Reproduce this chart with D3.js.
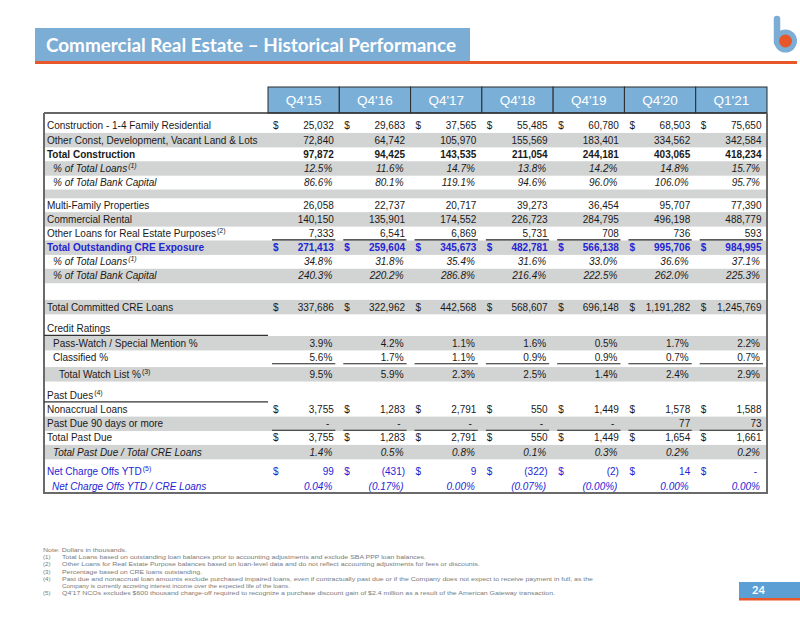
<!DOCTYPE html>
<html><head><meta charset="utf-8">
<script src="https://cdn.jsdelivr.net/npm/d3@7/dist/d3.min.js"></script>
<style>body{margin:0;background:#fff}svg{display:block}</style>
</head><body><svg id="c" width="800" height="618"></svg>
<script>
// ---------- data ----------
const title = "Commercial Real Estate \u2013 Historical Performance";
const categories = ["Q4'15","Q4'16","Q4'17","Q4'18","Q4'19","Q4'20","Q1'21"];
const constr14 = [25032, 29683, 37565, 55485, 60780, 68503, 75650];
const otherConst = [72840, 64742, 105970, 155569, 183401, 334562, 342584];
const totalConstruction = [97872, 94425, 143535, 211054, 244181, 403065, 418234];
const constrPctLoans = [12.5, 11.6, 14.7, 13.8, 14.2, 14.8, 15.7];
const constrPctCapital = [86.6, 80.1, 119.1, 94.6, 96.0, 106.0, 95.7];
const multiFamily = [26058, 22737, 20717, 39273, 36454, 95707, 77390];
const commercialRental = [140150, 135901, 174552, 226723, 284795, 496198, 488779];
const otherRE = [7333, 6541, 6869, 5731, 708, 736, 593];
const totalCRE = [271413, 259604, 345673, 482781, 566138, 995706, 984995];
const crePctLoans = [34.8, 31.8, 35.4, 31.6, 33.0, 36.6, 37.1];
const crePctCapital = [240.3, 220.2, 286.8, 216.4, 222.5, 262.0, 225.3];
const committed = [337686, 322962, 442568, 568607, 696148, 1191282, 1245769];
const passWatch = [3.9, 4.2, 1.1, 1.6, 0.5, 1.7, 2.2];
const classified = [5.6, 1.7, 1.1, 0.9, 0.9, 0.7, 0.7];
const totalWatch = [9.5, 5.9, 2.3, 2.5, 1.4, 2.4, 2.9];
const nonaccrual = [3755, 1283, 2791, 550, 1449, 1578, 1588];
const pastDue90 = [0, 0, 0, 0, 0, 77, 73];
const totalPastDue = [3755, 1283, 2791, 550, 1449, 1654, 1661];
const pastDuePct = [1.4, 0.5, 0.8, 0.1, 0.3, 0.2, 0.2];
const nco = [99, -431, 9, -322, -2, 14, 0];
const ncoPct = [0.04, -0.17, 0.00, -0.07, -0.0004, 0.00, 0.00];
const footnoteMarks = ["", "(1)", "(2)", "(3)", "(4)", "", "(5)"];
const footnoteTexts = [
  "Note: Dollars in thousands.",
  "Total Loans based on outstanding loan balances prior to accounting adjustments and exclude SBA PPP loan balances.",
  "Other Loans for Real Estate Purpose balances based on loan-level data and do not reflect accounting adjustments for fees or discounts.",
  "Percentage based on CRE loans outstanding.",
  "Past due and nonaccrual loan amounts exclude purchased impaired loans, even if contractually past due or if the Company does not expect to receive payment in full, as the",
  "Company is currently accreting interest income over the expected life of the loans.",
  "Q4'17 NCOs excludes $600 thousand charge-off required to recognize a purchase discount gain of $2.4 million as a result of the American Gateway transaction."
];
const pageNumber = "24";

// ---------- formatting ----------
const fNum = v => v === 0 ? "-" : (v < 0 ? "(" + d3.format(",")(-v) + ")" : d3.format(",")(v));
const fP1 = v => d3.format(".1f")(v) + "%";
const fP2 = v => v < 0 ? "(" + d3.format(".2f")(-v) + "%)" : d3.format(".2f")(v) + "%";

// ---------- layout ----------
const BLUE = "#2424d4", TXT = "#1a1a1a", GRAY = "#d2d3d3";
const rows = [
  {label:"Construction - 1-4 Family Residential", v:constr14, f:fNum, dollar:true},
  {label:"Other Const, Development, Vacant Land & Lots", v:otherConst, f:fNum, gray:true},
  {label:"Total Construction", v:totalConstruction, f:fNum, bold:true},
  {label:"% of Total Loans", sup:"(1)", v:constrPctLoans, f:fP1, italic:true, indent:6, gray:true, pct:true},
  {label:"% of Total Bank Capital", v:constrPctCapital, f:fP1, italic:true, indent:6, pct:true},
  {blank:0.6, gray:true},
  {label:"Multi-Family Properties", v:multiFamily, f:fNum},
  {label:"Commercial Rental", v:commercialRental, f:fNum, gray:true},
  {label:"Other Loans for Real Estate Purposes", sup:"(2)", v:otherRE, f:fNum, underline:true},
  {label:"Total Outstanding CRE Exposure", v:totalCRE, f:fNum, dollar:true, bold:true, color:BLUE, gray:true},
  {label:"% of Total Loans", sup:"(1)", v:crePctLoans, f:fP1, italic:true, indent:6, pct:true},
  {label:"% of Total Bank Capital", v:crePctCapital, f:fP1, italic:true, indent:6, gray:true, pct:true},
  {blank:1.2},
  {label:"Total Committed CRE Loans", v:committed, f:fNum, dollar:true, gray:true},
  {blank:0.55},
  {label:"Credit Ratings", labelLine:true},
  {label:"Pass-Watch / Special Mention %", v:passWatch, f:fP1, indent:6, gray:true, pct:true},
  {label:"Classified %", v:classified, f:fP1, indent:6, underline:true, pct:true},
  {blank:0.2},
  {label:"Total Watch List %", sup:"(3)", v:totalWatch, f:fP1, indent:12, gray:true, pct:true},
  {blank:0.5},
  {label:"Past Dues", sup:"(4)", labelLine:true},
  {label:"Nonaccrual Loans", v:nonaccrual, f:fNum, dollar:true},
  {label:"Past Due 90 days or more", v:pastDue90, f:fNum, gray:true, underline:true},
  {label:"Total Past Due", v:totalPastDue, f:fNum, dollar:true},
  {label:"Total Past Due / Total  CRE Loans", v:pastDuePct, f:fP1, italic:true, indent:6, gray:true, pct:true},
  {blank:0.4},
  {label:"Net Charge Offs YTD", sup:"(5)", v:nco, f:fNum, dollar:true, color:BLUE},
  {label:"Net Charge Offs YTD / CRE Loans", v:ncoPct, f:fP2, italic:true, indent:5, color:BLUE, pct:true}
];
let acc = 0;
rows.forEach(r => { r.h = r.blank || 1; r.u0 = acc; acc += r.h; });

const tableLeft = 44, tableRight = 767, tableTop = 113, tableBottom = 493;
const x = d3.scaleBand().domain(categories).range([268, 767]);
const y = d3.scaleLinear().domain([0, acc]).range([118.8, tableBottom]);

const svg = d3.select("#c");
svg.append("rect").attr("width",800).attr("height",618).attr("fill","#fff");

// ---------- title bar ----------
svg.append("rect").attr("x",35).attr("y",28).attr("width",435).attr("height",33).attr("fill","#7badd5");
svg.append("text").attr("x",46).attr("y",51.5).text(title)
  .attr("font-family","Lato, 'Open Sans', sans-serif").attr("font-weight",700)
  .attr("font-size",19).attr("textLength",410).attr("lengthAdjust","spacingAndGlyphs").attr("fill","#fff");
svg.append("rect").attr("x",35).attr("y",61).attr("width",762).attr("height",3).attr("fill","#e8572a");
// logo
svg.append("line").attr("x1",777).attr("x2",777).attr("y1",19).attr("y2",42)
  .attr("stroke","#7badd5").attr("stroke-width",6.5).attr("stroke-linecap","round");
svg.append("circle").attr("cx",785.5).attr("cy",41).attr("r",9).attr("fill","#e8572a")
  .attr("stroke","#7badd5").attr("stroke-width",5);

// ---------- gray bands ----------
const g = svg.append("g");
g.selectAll("rect.band").data(rows.filter(r => r.gray)).join("rect").attr("class","band")
  .attr("x",tableLeft).attr("width",tableRight-tableLeft)
  .attr("y",r => y(r.u0)).attr("height",r => y(r.u0+r.h)-y(r.u0)+0.3).attr("fill",GRAY);

// ---------- header ----------
const hdr = svg.append("g");
hdr.selectAll("rect").data(categories).join("rect")
  .attr("x",d => x(d)).attr("y",87).attr("width",x.bandwidth()).attr("height",tableTop-87)
  .attr("fill","#7aafd7").attr("stroke","#2b2b2b").attr("stroke-width",1);
hdr.selectAll("text").data(categories).join("text")
  .attr("x",d => x(d)+x.bandwidth()/2).attr("y",105).attr("text-anchor","middle")
  .attr("font-family","'Liberation Sans', Arial, sans-serif").attr("font-size",13.5)
  .attr("fill","#fff").text(d => d);

// ---------- table border ----------
svg.append("line").attr("x1",tableLeft).attr("x2",tableRight).attr("y1",tableTop).attr("y2",tableTop)
  .attr("stroke","#333").attr("stroke-width",1.3);
svg.append("path").attr("d",`M${tableLeft},${tableTop}V${tableBottom}H${tableRight}V${tableTop}`)
  .attr("fill","none").attr("stroke","#6a6a6a").attr("stroke-width",2);

// ---------- rows ----------
const FONT = "'Liberation Sans', Arial, sans-serif";
const body = svg.append("g").attr("font-family",FONT).attr("font-size",10);
rows.filter(r => !r.blank).forEach(r => {
  const cy = (y(r.u0) + y(r.u0+r.h)) / 2;
  const base = cy + 3.6;
  const col = r.color || TXT;
  const t = body.append("text").attr("x",47 + (r.indent||0)).attr("y",base).attr("fill",col)
    .attr("font-weight",r.bold?700:400).attr("font-style",r.italic?"italic":"normal").text(r.label);
  if (r.sup) t.append("tspan").attr("font-size",7).attr("dy",-4).attr("dx",1).text(r.sup);
  if (r.labelLine) {
    body.append("line").attr("x1",tableLeft).attr("x2",268).attr("y1",y(r.u0+r.h)-0.5).attr("y2",y(r.u0+r.h)-0.5)
      .attr("stroke","#333").attr("stroke-width",1.2);
  }
  if (!r.v) return;
  if (r.dollar) {
    body.selectAll(null).data(categories).join("text")
      .attr("x",d => x(d)+5).attr("y",base).attr("fill",col).attr("font-weight",r.bold?700:400)
      .text("$");
  }
  body.selectAll(null).data(r.v.map((v,i) => ({v, c:categories[i]}))).join("text")
    .attr("x",d => x(d.c) + x.bandwidth() - (d.v === 0 && !r.pct ? 10 : (r.pct ? 7 : 5.5)))
    .attr("y",base).attr("text-anchor","end").attr("fill",col)
    .attr("font-weight",r.bold?700:400).attr("font-style",r.italic?"italic":"normal")
    .text(d => r.f(d.v));
  if (r.underline) {
    const ly = y(r.u0+r.h) - 0.5;
    body.selectAll(null).data(categories).join("line")
      .attr("x1",d => x(d)+4).attr("x2",d => x(d)+x.bandwidth()-4)
      .attr("y1",ly).attr("y2",ly).attr("stroke","#222").attr("stroke-width",1.2);
  }
});

// ---------- footnotes ----------
const fnWidths = [84, 364, 418, 140, 531, 228, 493];
const fn = svg.append("g").attr("font-family","'Liberation Sans', Arial, sans-serif").attr("font-size",6.1).attr("fill","#7a7a7a");
footnoteTexts.forEach((txt,i) => {
  const yy = 552 + i*7.2;
  const m = footnoteMarks[i];
  if (m) fn.append("text").attr("x",43).attr("y",yy).text(m);
  fn.append("text").attr("x",i === 0 ? 43 : 62).attr("y",yy)
    .attr("textLength",fnWidths[i]).attr("lengthAdjust","spacingAndGlyphs").text(txt);
});

// ---------- page number ----------
svg.append("rect").attr("x",739).attr("y",582).attr("width",61).attr("height",16).attr("fill","#5b9fd4");
svg.append("rect").attr("x",739).attr("y",598).attr("width",61).attr("height",2.5).attr("fill","#e8572a");
svg.append("text").attr("x",752).attr("y",594).attr("font-family","Lato, sans-serif").attr("font-weight",700)
  .attr("font-size",11).attr("fill","#fff").text(pageNumber);
</script></body></html>
